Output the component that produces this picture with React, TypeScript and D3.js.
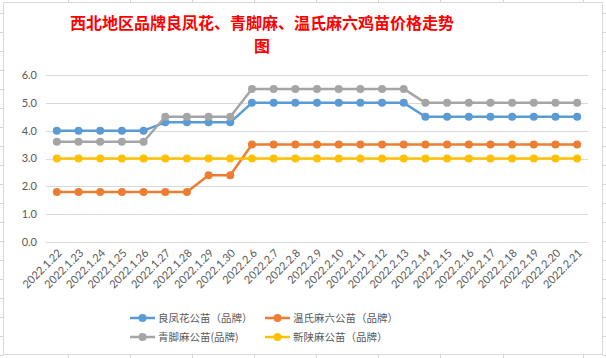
import React from "react";
import { scaleBand, scaleLinear, line } from "d3";

const dates = [
  "2022.1.22", "2022.1.23", "2022.1.24", "2022.1.25", "2022.1.26", "2022.1.27",
  "2022.1.28", "2022.1.29", "2022.1.30", "2022.2.6", "2022.2.7", "2022.2.8",
  "2022.2.9", "2022.2.10", "2022.2.11", "2022.2.12", "2022.2.13", "2022.2.14",
  "2022.2.15", "2022.2.16", "2022.2.17", "2022.2.18", "2022.2.19", "2022.2.20",
  "2022.2.21",
];

const liangfenghua = [4, 4, 4, 4, 4, 4.3, 4.3, 4.3, 4.3, 5, 5, 5, 5, 5, 5, 5, 5, 4.5, 4.5, 4.5, 4.5, 4.5, 4.5, 4.5, 4.5];
const wenshi = [1.8, 1.8, 1.8, 1.8, 1.8, 1.8, 1.8, 2.4, 2.4, 3.5, 3.5, 3.5, 3.5, 3.5, 3.5, 3.5, 3.5, 3.5, 3.5, 3.5, 3.5, 3.5, 3.5, 3.5, 3.5];
const qingjiao = [3.6, 3.6, 3.6, 3.6, 3.6, 4.5, 4.5, 4.5, 4.5, 5.5, 5.5, 5.5, 5.5, 5.5, 5.5, 5.5, 5.5, 5, 5, 5, 5, 5, 5, 5, 5];
const xinshan = [3, 3, 3, 3, 3, 3, 3, 3, 3, 3, 3, 3, 3, 3, 3, 3, 3, 3, 3, 3, 3, 3, 3, 3, 3];

const yTicks = [0, 1, 2, 3, 4, 5, 6];

const series = [
  { name: "良凤花公苗（品牌）", values: liangfenghua, color: "#5B9BD5" },
  { name: "温氏麻六公苗（品牌）", values: wenshi, color: "#ED7D31" },
  { name: "青脚麻公苗(品牌)", values: qingjiao, color: "#A5A5A5" },
  { name: "新陕麻公苗（品牌）", values: xinshan, color: "#FFC000" },
];

// spreadsheet gridlines showing around the chart object
const sheetCols = [68, 130, 192, 254, 316, 378, 440, 503, 583];
const sheetRows = Array.from({ length: 19 }, (_, i) => 13 + i * 19);

const W = 606;
const H = 358;

export default function App() {
  const x = scaleBand<string>().domain(dates).range([46, 588]);
  const y = scaleLinear().domain([0, 6]).range([242, 75]);
  const cx = (d: string) => x(d)! + x.bandwidth() / 2;

  const path = line<number>()
    .x((_, i) => cx(dates[i]))
    .y((v) => y(v));

  const font = "'Noto Sans CJK SC', 'Noto Sans', sans-serif";

  return (
    <div style={{ position: "fixed", left: 0, top: 0 }}>
      <svg width={W} height={H} style={{ display: "block", background: "#fff" }}>
        {sheetCols.map((c) => (
          <g key={"c" + c} stroke="#D4D4D4">
            <line x1={c + 0.5} x2={c + 0.5} y1={0} y2={3} />
            <line x1={c + 0.5} x2={c + 0.5} y1={355} y2={H} />
          </g>
        ))}
        {sheetRows.map((r) => (
          <g key={"r" + r} stroke="#D4D4D4">
            <line x1={0} x2={3} y1={r + 0.5} y2={r + 0.5} />
            <line x1={603} x2={W} y1={r + 0.5} y2={r + 0.5} />
          </g>
        ))}
        <rect x={3.5} y={2.5} width={599} height={352} fill="#fff" stroke="#D9D9D9" />

        <text x={262} y={29} textAnchor="middle" fill="#FF0000" fontSize={16} fontWeight="bold" fontFamily={font}>
          西北地区品牌良凤花、青脚麻、温氏麻六鸡苗价格走势
        </text>
        <text x={262} y={52} textAnchor="middle" fill="#FF0000" fontSize={16} fontWeight="bold" fontFamily={font}>
          图
        </text>

        {yTicks.map((t) => (
          <g key={t}>
            <line x1={46} x2={588} y1={Math.round(y(t)) + 0.5} y2={Math.round(y(t)) + 0.5} stroke="#D9D9D9" />
            <text x={37} y={y(t)} dy="0.35em" textAnchor="end" fill="#595959" fontSize={11} fontFamily="Lato, 'Noto Sans', sans-serif">
              {t.toFixed(1)}
            </text>
          </g>
        ))}

        {dates.map((d) => (
          <text
            key={d}
            transform={`translate(${cx(d) + 3},${251}) rotate(-45)`}
            dy="0.35em"
            textAnchor="end"
            fill="#595959"
            fontSize={11}
            fontFamily="Lato, 'Noto Sans', sans-serif"
          >
            {d}
          </text>
        ))}

        {series.map((s) => (
          <g key={s.name}>
            <path d={path(s.values)!} fill="none" stroke={s.color} strokeWidth={2.5} strokeLinejoin="round" />
            {s.values.map((v, i) => (
              <circle key={i} cx={cx(dates[i])} cy={y(v)} r={4} fill={s.color} />
            ))}
          </g>
        ))}

        {series.map((s, i) => {
          const lx = i % 2 === 0 ? 130 : 265;
          const ly = i < 2 ? 318 : 337;
          return (
            <g key={"lg" + s.name}>
              <line x1={lx} x2={lx + 25} y1={ly} y2={ly} stroke={s.color} strokeWidth={2.5} />
              <circle cx={lx + 12.5} cy={ly} r={4} fill={s.color} />
              <text x={lx + 28} y={ly} dy="0.35em" fill="#595959" fontSize={10.5} fontFamily={font}>
                {s.name}
              </text>
            </g>
          );
        })}
      </svg>
    </div>
  );
}
